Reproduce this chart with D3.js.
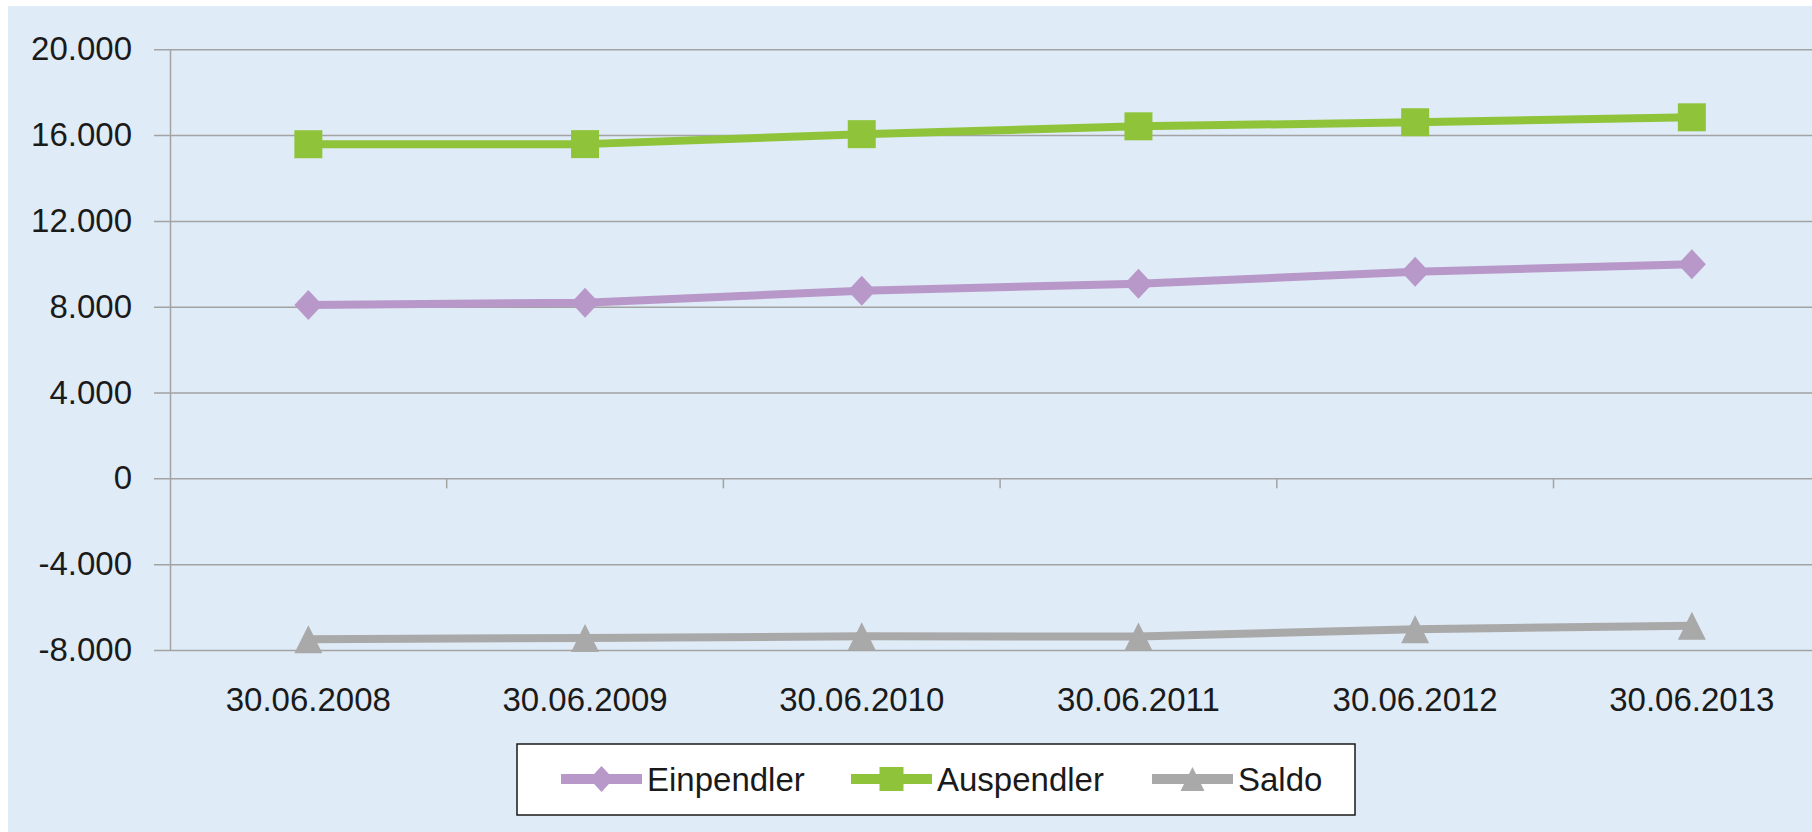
<!DOCTYPE html>
<html>
<head>
<meta charset="utf-8">
<script src="https://cdn.jsdelivr.net/npm/d3@7"></script>
<style>
    html, body { margin: 0; padding: 0; background: #ffffff; }
    svg { display: block; }
    text { font-family: "Liberation Sans", Arial, sans-serif; fill: #1a1a1a; }
</style>
</head>
<body>
<svg id="chart"></svg>
<script>
// Stichtage und Werte
var dates = ["30.06.2008", "30.06.2009", "30.06.2010", "30.06.2011", "30.06.2012", "30.06.2013"];
var einpendler = [8080, 8190, 8750, 9075, 9635, 9980];
var auspendler = [15575, 15580, 16045, 16410, 16600, 16830];
var saldo = [-7500, -7440, -7360, -7370, -7030, -6870];
var yTicks = [-8000, -4000, 0, 4000, 8000, 12000, 16000, 20000];

var seriesNames = ["Einpendler", "Auspendler", "Saldo"];
var seriesColors = ["#b897c9", "#8fc43a", "#a9a9a9"];
var seriesShapes = ["diamond", "square", "triangle"];

var W = 1812, H = 832;
var plotLeft = 170, plotTop = 49.3, plotBottom = 650;

var svg = d3.select("#chart")
    .attr("width", W)
    .attr("height", H);

svg.append("rect")
    .attr("x", 8)
    .attr("y", 6)
    .attr("width", W - 8)
    .attr("height", H - 6)
    .attr("fill", "#dfebf6");

var y = d3.scaleLinear()
    .domain([-8000, 20000])
    .range([plotBottom, plotTop]);

var x = d3.scaleBand()
    .domain(dates)
    .range([plotLeft, plotLeft + 6 * 276.7]);

var mid = function (d) { return x(d) + x.bandwidth() / 2; };

var de = d3.formatLocale({decimal: ",", thousands: ".", grouping: [3], currency: ["", " €"], minus: "-"});
var fmt = de.format(",");

// y axis with grid
var yAxis = d3.axisLeft(y)
    .tickValues(yTicks)
    .tickSizeInner(-(W - plotLeft))
    .tickSizeOuter(0)
    .tickPadding(38)
    .tickFormat(fmt);

var gy = svg.append("g")
    .attr("transform", "translate(" + plotLeft + ",0)")
    .call(yAxis);
gy.select(".domain").attr("stroke", "#a3a3a3").attr("stroke-width", 1.5);
gy.selectAll(".tick line")
    .attr("x1", -16)
    .attr("stroke", "#a3a3a3")
    .attr("stroke-width", 1.5);
gy.selectAll(".tick text")
    .attr("x", -38)
    .style("font-size", "33px")
    .style("font-family", "'Liberation Sans', Arial, sans-serif")
    .attr("fill", "#1a1a1a");

// small ticks on the zero line between categories
svg.append("g").selectAll("line")
    .data(dates.slice(1))
    .enter()
    .append("line")
    .attr("x1", function (d) { return x(d); })
    .attr("x2", function (d) { return x(d); })
    .attr("y1", y(0))
    .attr("y2", y(0) + 10)
    .attr("stroke", "#a3a3a3")
    .attr("stroke-width", 1.5);

// category labels below the plot
svg.append("g").selectAll("text")
    .data(dates)
    .enter()
    .append("text")
    .attr("x", mid)
    .attr("y", 711)
    .attr("text-anchor", "middle")
    .style("font-size", "33px")
    .text(function (d) { return d; });

function marker(shape, s) {
    var h = s / 2;
    if (shape === "square") return "M" + (-h) + "," + (-h) + "H" + h + "V" + h + "H" + (-h) + "Z";
    if (shape === "diamond") return "M0," + (-h - 1) + "L" + h + ",0L0," + (h + 1) + "L" + (-h) + ",0Z";
    return "M0," + (-h) + "L" + h + "," + h + "L" + (-h) + "," + h + "Z";
}

var allSeries = [einpendler, auspendler, saldo];
var line = d3.line()
    .x(function (d, i) { return mid(dates[i]); })
    .y(function (d) { return y(d); });

allSeries.forEach(function (vals, k) {
    var g = svg.append("g");
    g.append("path")
        .datum(vals)
        .attr("d", line)
        .attr("fill", "none")
        .attr("stroke", seriesColors[k])
        .attr("stroke-width", 8)
        .attr("stroke-linejoin", "round");
    g.selectAll("path.m")
        .data(vals)
        .enter()
        .append("path")
        .attr("class", "m")
        .attr("transform", function (d, i) {
            return "translate(" + [mid(dates[i]), y(d)] + ")";
        })
        .attr("d", marker(seriesShapes[k], 28))
        .attr("fill", seriesColors[k]);
});

// legend
var legend = svg.append("g");
legend.append("rect")
    .attr("x", 517)
    .attr("y", 744)
    .attr("width", 838)
    .attr("height", 71)
    .attr("fill", "#ffffff")
    .attr("stroke", "#1a1a1a")
    .attr("stroke-width", 1.5);

var legX = [561, 851, 1152];
seriesNames.forEach(function (name, k) {
    var item = legend.append("g")
        .attr("transform", "translate(" + legX[k] + ",779)");
    item.append("line")
        .attr("x1", 0)
        .attr("x2", 81)
        .attr("stroke", seriesColors[k])
        .attr("stroke-width", 10);
    item.append("path")
        .attr("transform", "translate(40.5,0)")
        .attr("d", marker(seriesShapes[k], 24))
        .attr("fill", seriesColors[k]);
    item.append("text")
        .attr("x", 86)
        .attr("y", 12)
        .style("font-size", "33px")
        .text(name);
});
</script>
</body>
</html>
